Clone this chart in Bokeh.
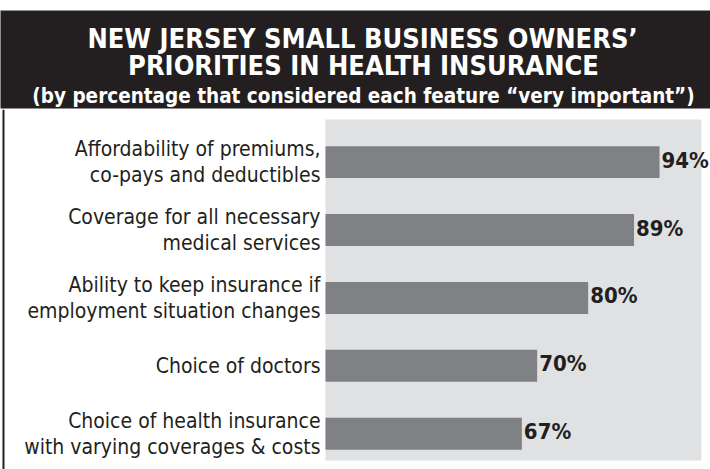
from bokeh.plotting import figure
from bokeh.layouts import column
from bokeh.models import Range1d, ColumnDataSource
from bokeh.core.properties import value
from bokeh.embed import file_html
from bokeh.resources import INLINE
import numpy as np

# ---- data ----
title_lines = ["NEW JERSEY SMALL BUSINESS OWNERS\u2019", "PRIORITIES IN HEALTH INSURANCE"]
subtitle = "(by percentage that considered each feature \u201cvery important\u201d)"
categories = [
    "Affordability of premiums,\nco-pays and deductibles",
    "Coverage for all necessary\nmedical services",
    "Ability to keep insurance if\nemployment situation changes",
    "Choice of doctors",
    "Choice of health insurance\nwith varying coverages & costs",
]
percent = [94, 89, 80, 70, 67]
value_labels = ["94%", "89%", "80%", "70%", "67%"]

# ---- style ----
DARK = "#231f20"
BAR = "#808184"
PANEL = "#e0e1e3"
COND = "DejaVu Sans Condensed"
W = 710
HEAD_H = 109
CHART_H = 360
AXIS_START = 28.5
X0, X1 = -35.23, 103.99

# ---- header ----
head = figure(width=W, height=HEAD_H, x_range=Range1d(0, W), y_range=Range1d(98, 0),
              output_backend="svg", toolbar_location=None,
              min_border_top=10, min_border_bottom=1, min_border_left=0, min_border_right=0)
head.background_fill_color = DARK
head.border_fill_color = "white"
head.outline_line_color = None
head.axis.visible = False
head.grid.visible = False
head.text(x=[362, 363], y=[28, 55], text=title_lines, text_color="white",
          text_font=value(COND), text_font_style="bold", text_font_size="27px",
          text_align="center", text_baseline="alphabetic")
head.text(x=[363], y=[85], text=[subtitle], text_color="white",
          text_font=value(COND), text_font_style="bold", text_font_size="20.5px",
          text_align="center", text_baseline="alphabetic")

# ---- chart ----
idx = np.arange(len(categories))
src = ColumnDataSource(dict(y=idx, pct=percent, cat=categories, lab=value_labels))

p = figure(width=W, height=CHART_H, x_range=Range1d(X0, X1), y_range=Range1d(4.527, -0.775),
           output_backend="svg", toolbar_location=None,
           min_border=0, min_border_left=0, min_border_right=0, min_border_top=0, min_border_bottom=0)
p.background_fill_color = "white"
p.border_fill_color = "white"
p.outline_line_color = None
p.axis.visible = False
p.grid.visible = False

# gray panel
p.quad(left=[AXIS_START], right=[102.2], top=[-0.628], bottom=[4.394],
       fill_color=PANEL, line_color=None)
# left border rule
p.quad(left=[-34.84], right=[-34.45], top=[-0.775], bottom=[4.527],
       fill_color=DARK, line_color=None)

p.hbar(y="y", left=AXIS_START, right="pct", height=0.47, source=src,
       fill_color=BAR, line_color=None)

p.text(x=AXIS_START, y="y", text="cat", source=src, x_offset=-5,
       text_align="right", text_baseline="middle", text_color=DARK,
       text_font=value(COND), text_font_size="21px", text_line_height=1.08)

p.text(x="pct", y="y", text="lab", source=src, x_offset=2, y_offset=-2,
       text_align="left", text_baseline="middle", text_color=DARK,
       text_font=value(COND), text_font_style="bold", text_font_size="22px")

layout = column(head, p, spacing=0)
open("out.html", "w").write(file_html(layout, INLINE))
